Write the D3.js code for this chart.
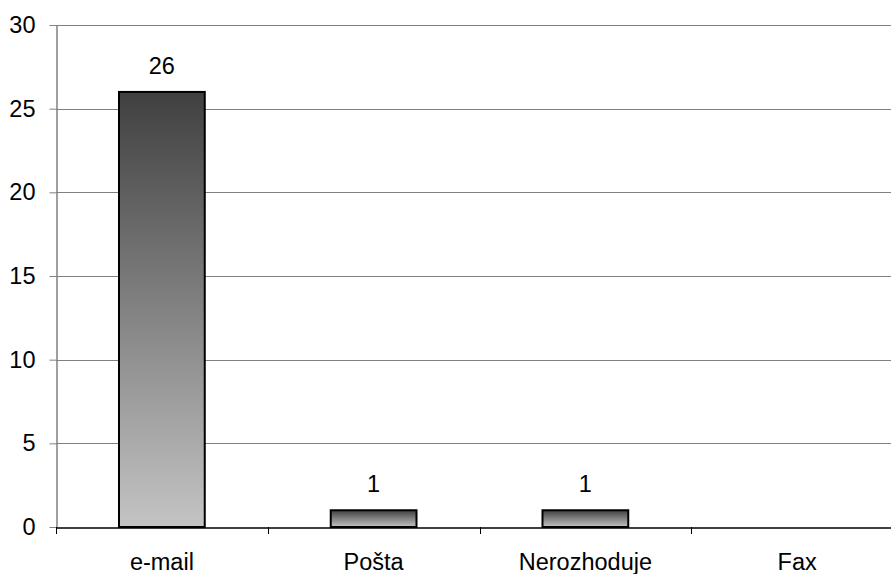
<!DOCTYPE html>
<html>
<head>
<meta charset="utf-8">
<script src="https://cdn.jsdelivr.net/npm/d3@7"></script>
<style>
  html, body { margin: 0; padding: 0; background: #fff; }
  svg { display: block; font-family: "Liberation Sans", Arial, sans-serif; }
</style>
</head>
<body>
<svg id="chart" width="891" height="574"></svg>
<script>
const categories = ["e-mail", "Pošta", "Nerozhoduje", "Fax"];
const counts = [26, 1, 1, 0];
const yTicks = [0, 5, 10, 15, 20, 25, 30];

const svg = d3.select("#chart");
const plotLeft = 56, plotRight = 903, plotTop = 25, plotBottom = 527;
const fontSize = 23.5;

const x = d3.scaleBand().domain(categories).range([plotLeft, plotRight]).paddingInner(0).paddingOuter(0);
const y = d3.scaleLinear().domain([0, 30]).range([plotBottom, plotTop]);

const defs = svg.append("defs");
const grad = defs.append("linearGradient")
  .attr("id", "barFill").attr("x1", 0).attr("y1", 0).attr("x2", 0).attr("y2", 1);
grad.append("stop").attr("offset", "0%").attr("stop-color", "#404040");
grad.append("stop").attr("offset", "100%").attr("stop-color", "#c4c4c4");

// horizontal gridlines
svg.append("g").selectAll("line").data(yTicks.filter(d => d > 0)).join("line")
  .attr("x1", plotLeft).attr("x2", plotRight)
  .attr("y1", d => Math.round(y(d)) + 0.5).attr("y2", d => Math.round(y(d)) + 0.5)
  .attr("stroke", "#808080").attr("stroke-width", 1);

// y axis
const yAxis = svg.append("g").attr("transform", `translate(${plotLeft + 0.5},0)`)
  .call(d3.axisLeft(y).tickValues(yTicks).tickSize(7).tickPadding(14).tickSizeOuter(0));
yAxis.select(".domain").attr("stroke", "#808080").attr("stroke-width", 1.5);
yAxis.selectAll(".tick line").attr("stroke", "#808080");
yAxis.selectAll(".tick text").attr("font-size", fontSize).attr("fill", "#000")
  .attr("font-family", "Liberation Sans, Arial, sans-serif");

const rows = categories.map((c, i) => ({c, v: counts[i]})).filter(d => d.v > 0);

// bars
const barW = x.bandwidth() * 0.405;
svg.append("g").selectAll("rect").data(rows)
  .join("rect")
  .attr("x", d => x(d.c) + (x.bandwidth() - barW) / 2)
  .attr("y", d => y(d.v))
  .attr("width", barW)
  .attr("height", d => y(0) - y(d.v))
  .attr("fill", "url(#barFill)")
  .attr("stroke", "#000").attr("stroke-width", 2);

// value labels
svg.append("g").selectAll("text").data(rows)
  .join("text")
  .attr("x", d => x(d.c) + x.bandwidth() / 2)
  .attr("y", d => y(d.v) - 18)
  .attr("text-anchor", "middle").attr("font-size", fontSize).attr("fill", "#000")
  .text(d => d.v);

// x axis
const xAxis = svg.append("g").attr("transform", `translate(0,${plotBottom + 0.5})`)
  .call(d3.axisBottom(x).tickSize(0).tickPadding(26).tickSizeOuter(0));
xAxis.select(".domain").attr("stroke", "#000").attr("stroke-width", 1.5);
xAxis.selectAll(".tick text").attr("font-size", fontSize).attr("fill", "#000")
  .attr("font-family", "Liberation Sans, Arial, sans-serif");

// category separators below the baseline
svg.append("g").selectAll("line").data(categories.map(c => x(c)))
  .join("line")
  .attr("x1", d => Math.round(d) + 0.5).attr("x2", d => Math.round(d) + 0.5)
  .attr("y1", plotBottom).attr("y2", plotBottom + 7)
  .attr("stroke", "#000").attr("stroke-width", 1);
</script>
</body>
</html>
